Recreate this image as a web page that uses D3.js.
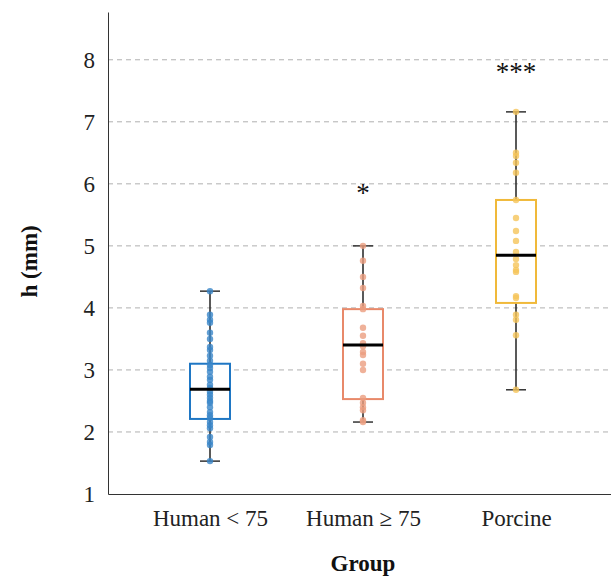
<!DOCTYPE html>
<html>
<head>
<meta charset="utf-8">
<script src="https://cdn.jsdelivr.net/npm/d3@7"></script>
<style>
  body { margin: 0; background: #fff; }
  text { font-family: "Palatino Linotype", Palatino, "Book Antiqua", "Liberation Serif", "DejaVu Serif", serif; }
</style>
</head>
<body>
<div id="chart"></div>
<script>
// groups and their colours
var groups = ["Human < 75", "Human \u2265 75", "Porcine"];
var boxColors = ["#1f77c4", "#e8896a", "#f0b93a"];
var dotColors = ["#3a86c8", "#eb9d80", "#f5c45a"];
var stars = ["", "*", "***"];

// box stats: [min, q1, median, q3, max]
var stats = [
  [1.53, 2.21, 2.69, 3.10, 4.27],
  [2.16, 2.53, 3.40, 3.98, 5.00],
  [2.68, 4.08, 4.85, 5.74, 7.16]
];

// individual points
var humanYoung = [4.27, 3.89, 3.81, 3.76, 3.60, 3.50, 3.37, 3.32, 3.23, 3.15, 3.08, 3.03,
  2.97, 2.89, 2.84, 2.76, 2.71, 2.65, 2.60, 2.55, 2.50, 2.47, 2.40, 2.32, 2.27, 2.23,
  2.16, 2.11, 2.06, 1.92, 1.84, 1.79, 1.53];
var humanOld = [5.00, 4.76, 4.50, 4.32, 4.03, 3.98, 3.68, 3.55, 3.43, 3.38, 3.29, 3.24,
  3.10, 3.00, 2.55, 2.47, 2.40, 2.35, 2.19, 2.16];
var porcine = [7.16, 6.50, 6.45, 6.34, 6.18, 5.74, 5.45, 5.24, 5.08, 4.90, 4.79, 4.69,
  4.61, 4.58, 4.19, 4.16, 3.89, 3.81, 3.56, 2.68];
var points = [humanYoung, humanOld, porcine];

var yTicks = [1, 2, 3, 4, 5, 6, 7, 8];

var svgWidth = 611;
var svgHeight = 576;
var margin = { top: 12, right: 0, bottom: 82, left: 108 };
var width = svgWidth - margin.left - margin.right;
var height = svgHeight - margin.top - margin.bottom;

var svg = d3.select("#chart")
  .append("svg")
  .attr("width", svgWidth)
  .attr("height", svgHeight);

var chartGroup = svg.append("g")
  .attr("transform", `translate(${margin.left}, ${margin.top})`);

var x = d3.scalePoint()
  .domain(groups)
  .range([102, 408]);

var y = d3.scaleLinear()
  .domain([1, 8.77])
  .range([height, 0]);

// dashed grid
chartGroup.selectAll(".grid")
  .data(yTicks.slice(1))
  .enter()
  .append("line")
  .attr("x1", 0)
  .attr("x2", width)
  .attr("y1", d => y(d))
  .attr("y2", d => y(d))
  .attr("stroke", "#b0b0b0")
  .attr("stroke-width", 1)
  .attr("stroke-dasharray", "5,4");

// axes
var leftAxis = d3.axisLeft(y).tickValues(yTicks).tickSize(0).tickPadding(13);
var yAxis = chartGroup.append("g").call(leftAxis);
yAxis.select(".domain").attr("stroke", "#333");
yAxis.selectAll("text").attr("font-size", 23).attr("fill", "#222");

var bottomAxis = d3.axisBottom(x).tickSize(0).tickPadding(16);
var xAxis = chartGroup.append("g")
  .attr("transform", `translate(0, ${height})`)
  .call(bottomAxis);
xAxis.select(".domain").attr("d", `M0.5,0.5H${width}`).attr("stroke", "#333");
xAxis.selectAll("text").attr("font-size", 23).attr("fill", "#222");

var boxW = 40;
var capW = 20;

groups.forEach(function(g, i) {
  var cx = x(g);
  var s = stats[i];
  var grp = chartGroup.append("g");

  // whisker
  grp.append("line")
    .attr("x1", cx).attr("x2", cx)
    .attr("y1", y(s[0])).attr("y2", y(s[4]))
    .attr("stroke", "#222").attr("stroke-width", 1.5);
  [s[0], s[4]].forEach(function(v) {
    grp.append("line")
      .attr("x1", cx - capW / 2).attr("x2", cx + capW / 2)
      .attr("y1", y(v)).attr("y2", y(v))
      .attr("stroke", "#333").attr("stroke-width", 1.5);
  });

  // box
  grp.append("rect")
    .attr("x", cx - boxW / 2)
    .attr("y", y(s[3]))
    .attr("width", boxW)
    .attr("height", y(s[1]) - y(s[3]))
    .attr("fill", "white")
    .attr("stroke", boxColors[i])
    .attr("stroke-width", 2);

  // dots
  grp.selectAll("circle")
    .data(points[i])
    .enter()
    .append("circle")
    .attr("cx", cx)
    .attr("cy", d => y(d))
    .attr("r", 3.2)
    .attr("fill", dotColors[i])
    .attr("opacity", 0.8);

  // median
  grp.append("line")
    .attr("x1", cx - boxW / 2).attr("x2", cx + boxW / 2)
    .attr("y1", y(s[2])).attr("y2", y(s[2]))
    .attr("stroke", "#000").attr("stroke-width", 3);

  // significance marks
  if (stars[i]) {
    grp.append("text")
      .attr("x", cx)
      .attr("y", i === 1 ? y(5.8) : y(7.75))
      .attr("text-anchor", "middle")
      .attr("dominant-baseline", "middle")
      .attr("font-family", "DejaVu Sans, sans-serif")
      .attr("font-size", 27)
      .attr("fill", "#111")
      .text(stars[i]);
  }
});

// axis titles
svg.append("text")
  .attr("transform", `translate(37, ${margin.top + y(4.75)}) rotate(-90)`)
  .attr("text-anchor", "middle")
  .attr("font-size", 23)
  .attr("font-weight", "bold")
  .attr("fill", "#111")
  .text("h (mm)");

svg.append("text")
  .attr("x", margin.left + x(groups[1]))
  .attr("y", 571)
  .attr("text-anchor", "middle")
  .attr("font-size", 23)
  .attr("font-weight", "bold")
  .attr("fill", "#111")
  .text("Group");
</script>
</body>
</html>
